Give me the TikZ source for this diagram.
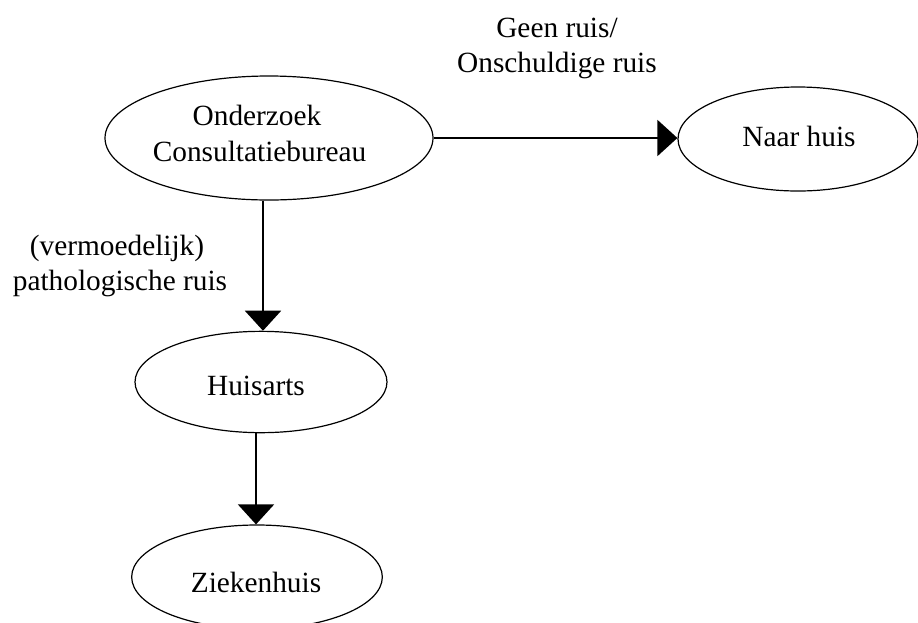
\documentclass[tikz,border=0pt]{standalone}
\usepackage{fontspec}
\setmainfont{Liberation Serif}
\usetikzlibrary{shapes.geometric,arrows.meta}
\tikzset{
  oval/.style={draw=black, line width=0.9pt, ellipse, inner sep=0pt},
  txt/.style={anchor=base, inner sep=0pt, font=\fontsize{22}{27}\selectfont},
  arr/.style={line width=1.4pt, -{Triangle[width=27pt,length=15pt]}}
}
\begin{document}
\begin{tikzpicture}[x=0.75pt,y=-0.75pt]
\useasboundingbox (0,0) rectangle (918,622);
% ellipses
\node[oval, minimum width=246pt, minimum height=93pt] (ond) at (269,138) {};
\node[oval, minimum width=180pt, minimum height=78pt] (naar) at (798,139) {};
\node[oval, minimum width=189pt, minimum height=76pt] (hui) at (261,382) {};
\node[oval, minimum width=188pt, minimum height=78pt] (zie) at (257,577) {};
% texts
\node[txt] (ondA) at (257,125) {Onderzoek};
\node[txt] (ondB) at (259.5,161) {Consultatiebureau};
\node[txt] (naart) at (799,146) {Naar huis};
\node[txt] (huit) at (256,395) {Huisarts};
\node[txt] (ziet) at (256,592) {Ziekenhuis};
\node[txt] (geenA) at (557,37) {Geen ruis/};
\node[txt] (geenB) at (557,72) {Onschuldige ruis};
\node[txt] (vermA) at (117,255) {(vermoedelijk)};
\node[txt] (vermB) at (120,290) {pathologische ruis};
% connectors
\draw[arr] (ond.east) -- (ond.east -| naar.west);
\coordinate (c1) at (263,0);
\draw[arr] (ond.south -| c1) -- (c1 |- hui.north);
\coordinate (c2) at (256,0);
\draw[arr] (hui.south -| c2) -- (c2 |- zie.north);
\end{tikzpicture}
\end{document}
